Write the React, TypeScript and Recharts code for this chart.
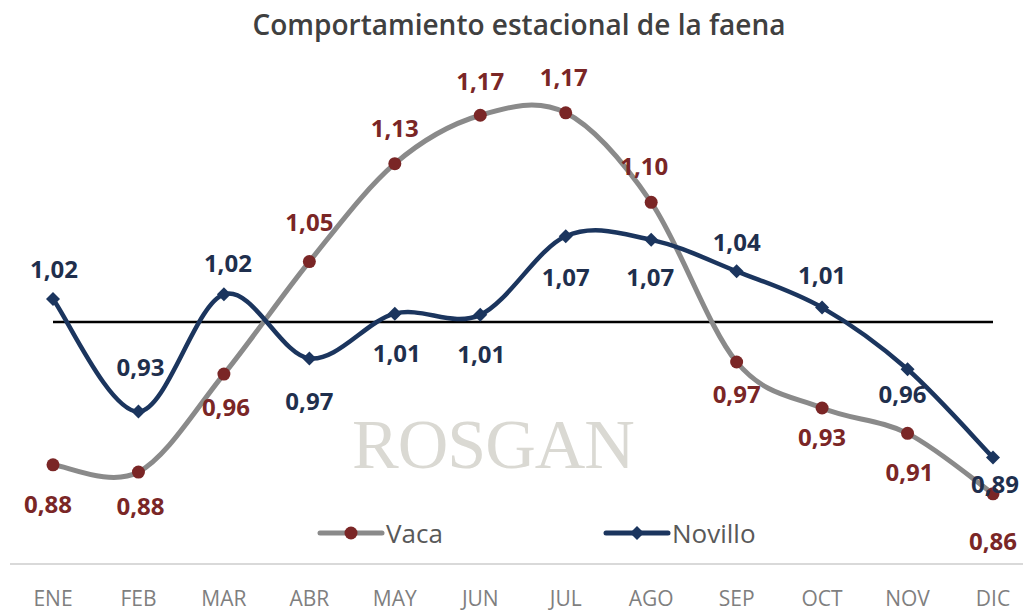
import React from 'react';
import {
  LineChart,
  Line,
  XAxis,
  YAxis,
  ReferenceLine,
  Legend,
} from 'recharts';

const meses = ['ENE', 'FEB', 'MAR', 'ABR', 'MAY', 'JUN', 'JUL', 'AGO', 'SEP', 'OCT', 'NOV', 'DIC'];
const vaca = [0.882, 0.876, 0.957, 1.05, 1.131, 1.171, 1.173, 1.099, 0.967, 0.929, 0.908, 0.858];
const novillo = [1.019, 0.926, 1.023, 0.97, 1.007, 1.006, 1.071, 1.068, 1.042, 1.012, 0.961, 0.888];

// label offsets (px from the point, centre of text)
const vacaLabelDy = [39, 33, 32, -40, -36, -35, -36, -37, 31, 29, 38, 47];
const vacaLabelDx = [-5, 2, 2, 0, 0, 0, -2, -7, 0, 0, 2, 0];
const novilloLabelDy = [-31, -45, -32, 42, 39, 39, 40, 37, -30, -33, 24, 26];
const novilloLabelDx = [1, 2, 4, 0, 2, 1, 0, -1, 0, 0, -5, 2];

const data = meses.map((mes, i) => ({ mes, vaca: vaca[i], novillo: novillo[i] }));

const GRIS = '#8a8a8a';
const ROJO = '#7a2626';
const AZUL = '#1b355e';
const AZUL_TXT = '#1f2f4d';

const fmt = (v: number) => v.toFixed(2).replace('.', ',');

// Excel-like smoothed line (Catmull-Rom through the points)
function smoothCurve(context: any) {
  let pts: number[][] = [];
  return {
    areaStart() {},
    areaEnd() {},
    lineStart() {
      pts = [];
    },
    point(x: number, y: number) {
      pts.push([+x, +y]);
    },
    lineEnd() {
      if (!pts.length) return;
      context.moveTo(pts[0][0], pts[0][1]);
      for (let i = 0; i < pts.length - 1; i++) {
        const p0 = pts[i - 1] || pts[i];
        const p1 = pts[i];
        const p2 = pts[i + 1];
        const p3 = pts[i + 2] || p2;
        context.bezierCurveTo(
          p1[0] + (p2[0] - p0[0]) / 6,
          p1[1] + (p2[1] - p0[1]) / 6,
          p2[0] - (p3[0] - p1[0]) / 6,
          p2[1] - (p3[1] - p1[1]) / 6,
          p2[0],
          p2[1]
        );
      }
    },
  };
}

const makeLabel = (dxs: number[], dys: number[], color: string) => (props: any) => {
  const { x, y, value, index } = props;
  return (
    <text
      x={x + dxs[index]}
      y={y + dys[index]}
      textAnchor="middle"
      dominantBaseline="central"
      fill={color}
      fontSize={24}
      fontWeight={700}
      fontFamily="'Open Sans', sans-serif"
    >
      {fmt(value)}
    </text>
  );
};

const VacaDot = (props: any) => {
  const { cx, cy } = props;
  return <circle cx={cx} cy={cy} r={6.5} fill={ROJO} />;
};

const NovilloDot = (props: any) => {
  const { cx, cy } = props;
  const r = 7;
  return (
    <path d={`M${cx},${cy - r}L${cx + r},${cy}L${cx},${cy + r}L${cx - r},${cy}Z`} fill={AZUL} />
  );
};

const LegendContent = () => (
  <svg width={1023} height={44} style={{ display: 'block' }}>
    <line x1={320} x2={382} y1={22} y2={22} stroke={GRIS} strokeWidth={5} strokeLinecap="round" />
    <circle cx={351} cy={22} r={6.5} fill={ROJO} />
    <text x={386} y={22} dominantBaseline="central" fontSize={26} fill="#595959" fontFamily="'Open Sans', sans-serif">
      Vaca
    </text>
    <line x1={606} x2={668} y1={22} y2={22} stroke={AZUL} strokeWidth={5} strokeLinecap="round" />
    <path d="M637,15L644,22L637,29L630,22Z" fill={AZUL} />
    <text x={672} y={22} dominantBaseline="central" fontSize={26} fill="#595959" fontFamily="'Open Sans', sans-serif">
      Novillo
    </text>
  </svg>
);

export default function App() {
  return (
    <div style={{ position: 'absolute', left: 0, top: 0, width: 1023, height: 612, background: '#fff' }}>
      <div
        style={{
          position: 'absolute',
          left: 0,
          top: 5,
          width: 1038,
          textAlign: 'center',
          fontFamily: "'Open Sans', sans-serif",
          fontWeight: 600,
          fontSize: 28,
          color: '#404040',
        }}
      >
        Comportamiento estacional de la faena
      </div>
      <div
        style={{
          position: 'absolute',
          left: 352,
          top: 405,
          fontFamily: "'Liberation Serif', serif",
          fontSize: 70,
          color: '#dad9d3',
          letterSpacing: -1,
        }}
      >
        ROSGAN
      </div>
      <div style={{ position: 'absolute', left: 0, top: 0 }}>
        <LineChart width={1023} height={612} data={data} margin={{ top: 56, right: 0, bottom: 8, left: 10 }}>
          <XAxis
            dataKey="mes"
            padding={{ left: 43, right: 30 }}
            axisLine={{ stroke: '#d9d9d9', strokeWidth: 2 }}
            tickLine={false}
            tickMargin={21}
            height={40}
            interval={0}
            tick={{ fill: '#7f7f7f', fontSize: 21, fontFamily: "'Open Sans', sans-serif" }}
          />
          <YAxis hide domain={[0.8, 1.22]} />
          <ReferenceLine
            segment={[
              { x: 'ENE', y: 1 },
              { x: 'DIC', y: 1 },
            ]}
            stroke="#000"
            strokeWidth={2.5}
          />
          <Legend
            layout="horizontal"
            verticalAlign="middle"
            align="center"
            wrapperStyle={{ position: 'absolute', top: 511, left: 0, width: 1023, height: 44 }}
            content={<LegendContent />}
          />
          <Line
            dataKey="vaca"
            name="Vaca"
            type={smoothCurve as any}
            stroke={GRIS}
            strokeWidth={5}
            dot={<VacaDot />}
            activeDot={false}
            label={makeLabel(vacaLabelDx, vacaLabelDy, ROJO)}
            isAnimationActive={false}
          />
          <Line
            dataKey="novillo"
            name="Novillo"
            type={smoothCurve as any}
            stroke={AZUL}
            strokeWidth={4.5}
            dot={<NovilloDot />}
            activeDot={false}
            label={makeLabel(novilloLabelDx, novilloLabelDy, AZUL_TXT)}
            isAnimationActive={false}
          />
        </LineChart>
      </div>
    </div>
  );
}
